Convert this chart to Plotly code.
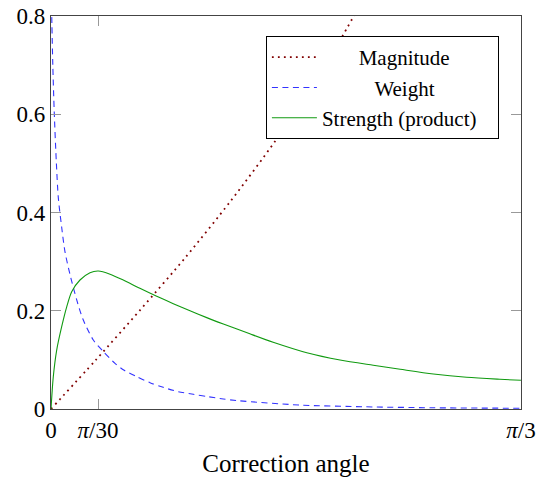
import math
import plotly.graph_objects as go

# ---- data ----
magnitude_x = [0, 0.1, 0.2, 0.3, 0.4, 0.5, 0.6, 0.65, 0.7]
magnitude_y = [0, 0.10, 0.203, 0.309, 0.423, 0.546, 0.684, 0.76, 0.842]

weight_x = [0.0012, 0.004, 0.0074, 0.012, 0.0163, 0.0238, 0.0312, 0.0423, 0.0573, 0.072,
            0.0943, 0.1165, 0.1426, 0.163, 0.191, 0.2206, 0.25, 0.2837, 0.317, 0.35,
            0.384, 0.417, 0.555, 0.70, 0.85, 1.047]
weight_y = [0.82, 0.70, 0.60, 0.50, 0.43, 0.37, 0.32, 0.274, 0.222, 0.181,
            0.1405, 0.117, 0.093, 0.0788, 0.0658, 0.0535, 0.0441, 0.0352, 0.0299, 0.025,
            0.0204, 0.0169, 0.008, 0.0045, 0.0025, 0.0015]

strength_x = [0, 0.0051, 0.0127, 0.0238, 0.035, 0.0461, 0.0646, 0.0869, 0.1054, 0.1315,
              0.161, 0.198, 0.2355, 0.2725, 0.3097, 0.347, 0.384, 0.443, 0.495, 0.570,
              0.644, 0.718, 0.778, 0.852, 0.926, 1.0, 1.047]
strength_y = [0, 0.0658, 0.120, 0.1675, 0.208, 0.2388, 0.2626, 0.2775, 0.2809, 0.2745,
              0.2626, 0.2457, 0.2295, 0.2145, 0.200, 0.186, 0.173, 0.153, 0.136, 0.1146,
              0.0997, 0.089, 0.0808, 0.0712, 0.0645, 0.0605, 0.0584]

x_tick_vals = [0, math.pi / 30, math.pi / 3]
x_tick_text = ["0", "<i>π</i>/30", "<i>π</i>/3"]
y_tick_vals = [0, 0.2, 0.4, 0.6, 0.8]
y_tick_text = ["0", "0.2", "0.4", "0.6", "0.8"]

NB = "\u00a0"
names = [NB * 7 + "Magnitude", NB * 10 + "Weight", "Strength (product)" + NB * 3]

FONT = "Liberation Serif, DejaVu Serif, serif"

fig = go.Figure()
fig.add_trace(go.Scatter(x=magnitude_x, y=magnitude_y, mode="lines", name=names[0],
                         line=dict(color="#800000", width=1.8, dash="1.8px,4.2px",
                                   shape="spline", smoothing=0.8)))
fig.add_trace(go.Scatter(x=weight_x, y=weight_y, mode="lines", name=names[1],
                         line=dict(color="#3333ff", width=1.1, dash="6px,4.5px",
                                   shape="spline", smoothing=0.8)))
fig.add_trace(go.Scatter(x=strength_x, y=strength_y, mode="lines", name=names[2],
                         line=dict(color="#109a10", width=1.1, shape="spline", smoothing=0.8)))

axis_common = dict(showgrid=False, zeroline=False, showline=True, linecolor="#444",
                   linewidth=1.2, mirror="ticks", ticks="inside", ticklen=10,
                   tickcolor="#999", tickwidth=1,
                   tickfont=dict(family=FONT, size=23, color="black"))

fig.update_xaxes(range=[0, math.pi / 3], tickvals=x_tick_vals, ticktext=x_tick_text,
                 title=dict(text="Correction angle", font=dict(family=FONT, size=25, color="black"),
                            standoff=12),
                 **axis_common)
fig.update_yaxes(range=[0, 0.8], tickvals=y_tick_vals, ticktext=y_tick_text, **axis_common)

fig.update_layout(
    width=545, height=477,
    margin=dict(l=51, r=24, t=16, b=68, autoexpand=False),
    plot_bgcolor="white", paper_bgcolor="white",
    font=dict(family=FONT, color="black"),
    legend=dict(x=0.953, y=0.949, xanchor="right", yanchor="top",
                bgcolor="white", bordercolor="black", borderwidth=1,
                font=dict(family=FONT, size=21, color="black"),
                tracegroupgap=0, itemwidth=45),
)

fig.write_html("out.html", config={"displayModeBar": False},
               post_script="document.body.style.margin='0';document.body.style.overflow='hidden';")
